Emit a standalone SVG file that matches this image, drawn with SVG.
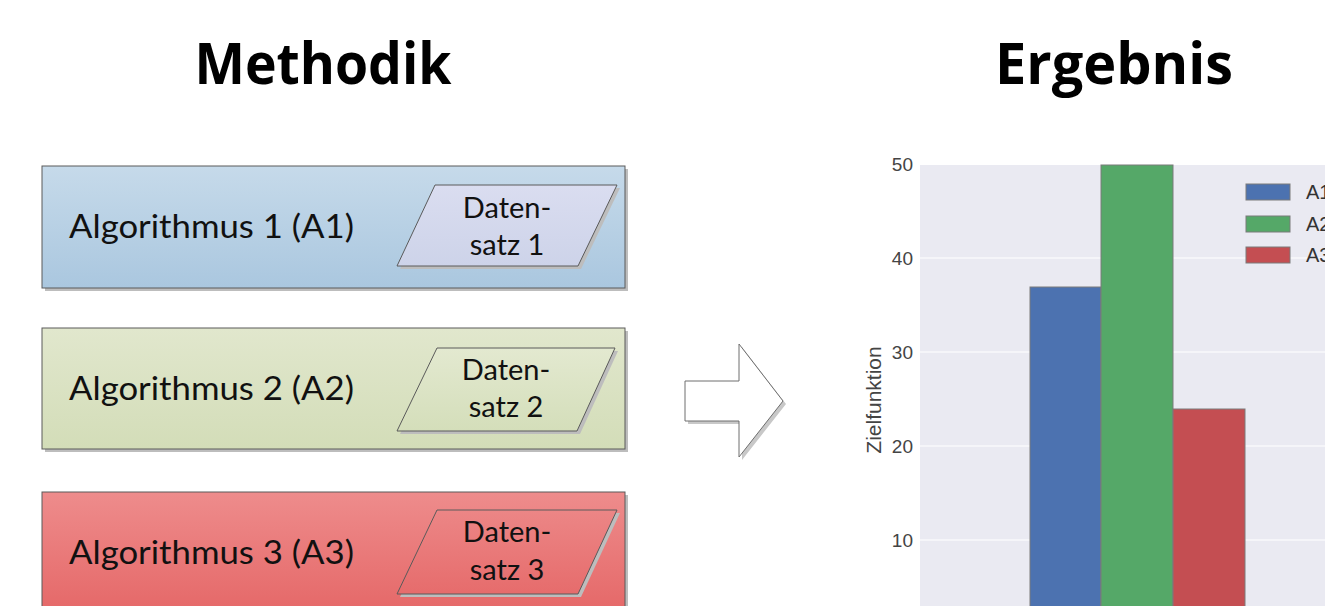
<svg xmlns="http://www.w3.org/2000/svg" width="1325" height="606" viewBox="0 0 1325 606">
  <defs>
    <linearGradient id="gBlue" x1="0" y1="0" x2="0" y2="1">
      <stop offset="0" stop-color="#C6DAEA"/>
      <stop offset="1" stop-color="#AAC7DF"/>
    </linearGradient>
    <linearGradient id="gGreen" x1="0" y1="0" x2="0" y2="1">
      <stop offset="0" stop-color="#E1E7CD"/>
      <stop offset="1" stop-color="#D3DDB8"/>
    </linearGradient>
    <linearGradient id="gRed" x1="0" y1="0" x2="0" y2="1">
      <stop offset="0" stop-color="#EE8C8C"/>
      <stop offset="1" stop-color="#E56868"/>
    </linearGradient>
    <linearGradient id="gData1" x1="0" y1="0" x2="0" y2="1">
      <stop offset="0" stop-color="#DADDF0"/>
      <stop offset="1" stop-color="#CDD3E9"/>
    </linearGradient>
    <linearGradient id="gData2" x1="0" y1="0" x2="0" y2="1">
      <stop offset="0" stop-color="#E3E9D0"/>
      <stop offset="1" stop-color="#D4DEBA"/>
    </linearGradient>
    <linearGradient id="gData3" x1="0" y1="0" x2="0" y2="1">
      <stop offset="0" stop-color="#EC8686"/>
      <stop offset="1" stop-color="#E66C6C"/>
    </linearGradient>
  </defs>
  <style>
    .title { font-family: "Open Sans", "Noto Sans", "Liberation Sans", sans-serif; font-weight: bold; font-size: 58px; fill: #000; text-anchor: middle; }
    .box { stroke: #5a5a5a; stroke-width: 1; }
    .shadow { fill: #bdbdbd; }
    .data { stroke: #5a5a5a; stroke-width: 1; }
    .lbl { font-family: Lato, "Open Sans", "Liberation Sans", sans-serif; font-size: 33px; fill: #111; }
    .dlbl { font-family: Lato, "Open Sans", "Liberation Sans", sans-serif; font-size: 29px; fill: #111; text-anchor: middle; }
    .tick { font-family: "Liberation Sans", Arial, sans-serif; font-size: 19px; fill: #444; text-anchor: end; }
    .axis { font-family: "Liberation Sans", Arial, sans-serif; font-size: 21px; fill: #444; text-anchor: middle; }
    .leg { font-family: "Liberation Sans", Arial, sans-serif; font-size: 20px; fill: #333; }
    .grid { stroke: #ffffff; stroke-width: 1.2; }
    .bar { stroke: #7a7a7a; stroke-width: 1; }
  </style>

  <rect width="1325" height="606" fill="#ffffff"/>

  <!-- headings -->
  <text class="title" x="323" y="84" textLength="257" lengthAdjust="spacingAndGlyphs">Methodik</text>
  <text class="title" x="1114" y="84" textLength="238" lengthAdjust="spacingAndGlyphs">Ergebnis</text>

  <!-- algorithm 1 -->
  <g id="algo1">
    <rect class="shadow" x="45" y="169" width="583" height="122"/>
    <rect class="box" x="42" y="166" width="583" height="122" fill="url(#gBlue)"/>
    <text class="lbl" x="69" y="238" textLength="285" lengthAdjust="spacingAndGlyphs">Algorithmus 1 (A1)</text>
    <polygon class="shadow" points="438,188 620,188 581,269 400,269"/>
    <polygon class="data" points="435,185 617,185 578,266 397,266" fill="url(#gData1)"/>
    <text class="dlbl" x="507" y="218">Daten-</text>
    <text class="dlbl" x="507" y="255">satz 1</text>
  </g>

  <!-- algorithm 2 -->
  <g id="algo2">
    <rect class="shadow" x="45" y="331" width="583" height="121"/>
    <rect class="box" x="42" y="328" width="583" height="121" fill="url(#gGreen)"/>
    <text class="lbl" x="69" y="400" textLength="285" lengthAdjust="spacingAndGlyphs">Algorithmus 2 (A2)</text>
    <polygon class="shadow" points="440,351 618,351 580,434 400,434"/>
    <polygon class="data" points="437,348 615,348 577,431 397,431" fill="url(#gData2)"/>
    <text class="dlbl" x="506" y="380">Daten-</text>
    <text class="dlbl" x="506" y="417">satz 2</text>
  </g>

  <!-- algorithm 3 -->
  <g id="algo3">
    <rect class="shadow" x="45" y="495" width="583" height="120"/>
    <rect class="box" x="42" y="492" width="583" height="120" fill="url(#gRed)"/>
    <text class="lbl" x="69" y="564" textLength="285" lengthAdjust="spacingAndGlyphs">Algorithmus 3 (A3)</text>
    <polygon class="shadow" points="440,513 620,513 581,597 400,597"/>
    <polygon class="data" points="437,510 617,510 578,594 397,594" fill="url(#gData3)"/>
    <text class="dlbl" x="507" y="542">Daten-</text>
    <text class="dlbl" x="507" y="580">satz 3</text>
  </g>

  <!-- transition arrow -->
  <g id="connectors">
    <polygon points="688,385 742,385 742,347 786,404 742,460 742,424 688,424" fill="#c8c8c8"/>
    <polygon points="685,381 739,381 739,344 783,401 739,457 739,421 685,421" fill="#ffffff" stroke="#6e6e6e" stroke-width="1"/>
  </g>

  <!-- result chart -->
  <g id="chart">
    <rect x="920" y="165" width="405" height="441" fill="#EAEAF2"/>
    <line class="grid" x1="920" y1="258" x2="1325" y2="258"/>
    <line class="grid" x1="920" y1="352" x2="1325" y2="352"/>
    <line class="grid" x1="920" y1="446" x2="1325" y2="446"/>
    <line class="grid" x1="920" y1="540" x2="1325" y2="540"/>

    <text class="tick" x="913" y="171">50</text>
    <text class="tick" x="913" y="265">40</text>
    <text class="tick" x="913" y="359">30</text>
    <text class="tick" x="913" y="453">20</text>
    <text class="tick" x="913" y="547">10</text>
    <text class="axis" transform="translate(881,400) rotate(-90)">Zielfunktion</text>

    <rect class="bar" x="1030" y="287" width="71" height="330" fill="#4C72B0"/>
    <rect class="bar" x="1101" y="165" width="72" height="452" fill="#55A868"/>
    <rect class="bar" x="1173" y="409" width="72" height="208" fill="#C44E52"/>

    <g id="legend">
      <rect class="bar" x="1246" y="184" width="44" height="16" fill="#4C72B0"/>
      <rect class="bar" x="1246" y="216" width="44" height="16" fill="#55A868"/>
      <rect class="bar" x="1246" y="247" width="44" height="16" fill="#C44E52"/>
      <text class="leg" x="1306" y="199">A1</text>
      <text class="leg" x="1306" y="231">A2</text>
      <text class="leg" x="1306" y="262">A3</text>
    </g>
  </g>
</svg>
